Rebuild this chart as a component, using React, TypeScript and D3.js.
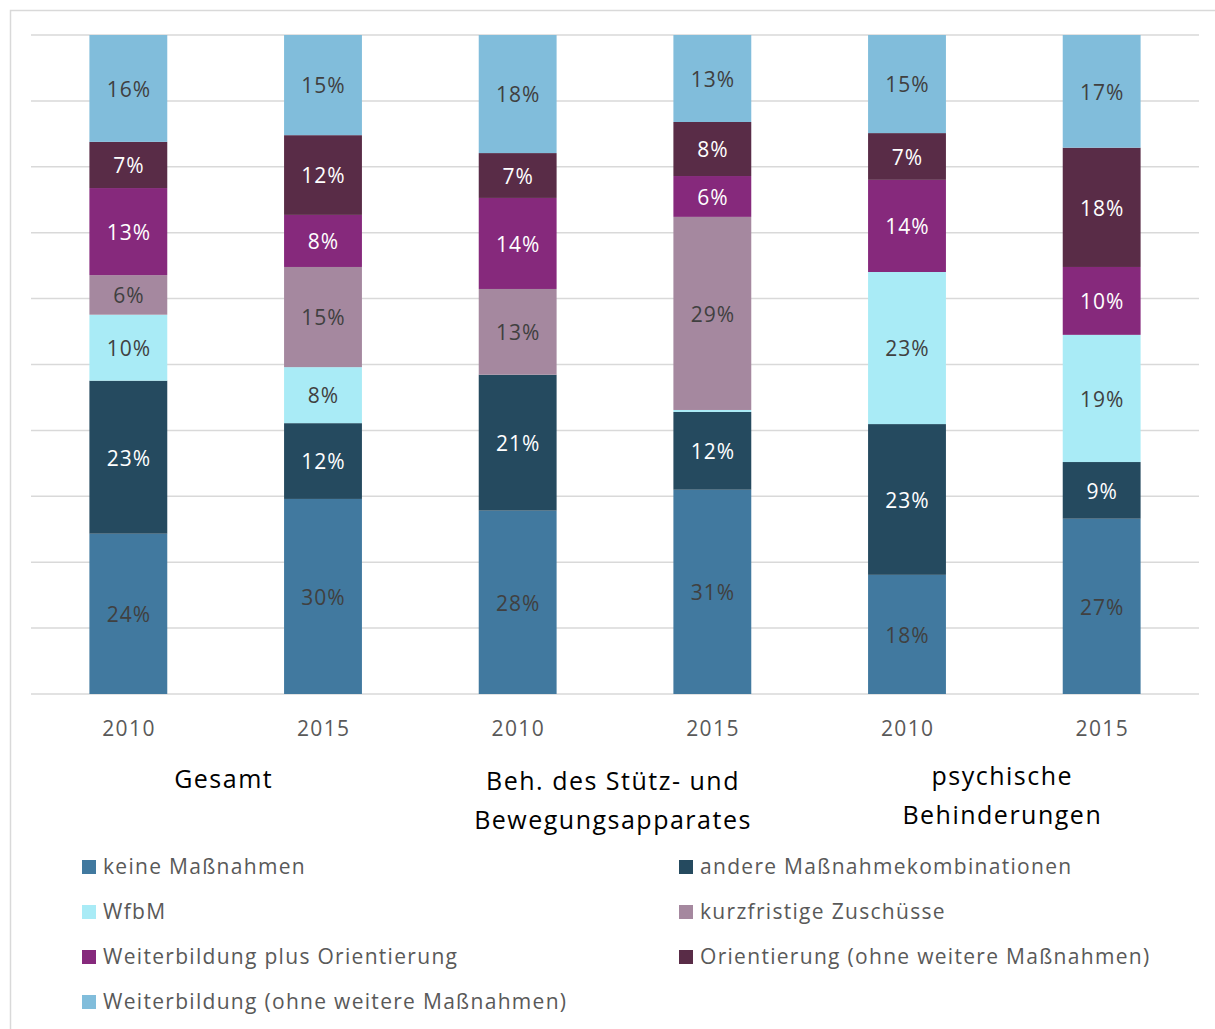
import React from 'react';
import * as d3 from 'd3';

// Balken: Gruppe x Jahr
const years = ['2010', '2015', '2010', '2015', '2010', '2015'];
const groups = [['Gesamt'], ['Beh. des Stütz- und', 'Bewegungsapparates'], ['psychische', 'Behinderungen']];

const seriesNames = [
  'keine Maßnahmen',
  'andere Maßnahmekombinationen',
  'WfbM',
  'kurzfristige Zuschüsse',
  'Weiterbildung plus Orientierung',
  'Orientierung (ohne weitere Maßnahmen)',
  'Weiterbildung (ohne weitere Maßnahmen)',
];

// Anteile in %, von unten nach oben gestapelt
const keine = [24.3, 29.6, 27.8, 31.0, 18.1, 26.6];
const andere = [23.2, 11.5, 20.6, 11.8, 22.9, 8.6];
const wfbm = [10.0, 8.5, 0, 0.3, 23.1, 19.3];
const kurz = [6.0, 15.2, 13.0, 29.3, 0, 0];
const weiterPlus = [13.2, 7.9, 13.8, 6.2, 14.0, 10.3];
const orient = [7.0, 12.1, 6.8, 8.2, 7.1, 18.1];
const weiter = [16.2, 15.2, 17.9, 13.2, 14.9, 17.1];

const labels = [
  ['24%', '30%', '28%', '31%', '18%', '27%'],
  ['23%', '12%', '21%', '12%', '23%', '9%'],
  ['10%', '8%', '', '', '23%', '19%'],
  ['6%', '15%', '13%', '29%', '', ''],
  ['13%', '8%', '14%', '6%', '14%', '10%'],
  ['7%', '12%', '7%', '8%', '7%', '18%'],
  ['16%', '15%', '18%', '13%', '15%', '17%'],
];

const colors = ['#41799F', '#254A5F', '#A9EBF6', '#A5889F', '#86297C', '#592C47', '#81BDDB'];
const labelColors = ['#404040', '#ffffff', '#404040', '#404040', '#ffffff', '#ffffff', '#404040'];

const W = 1215;
const H = 1029;
const font = '"Open Sans", Lato, sans-serif';

export default function App() {
  const margin = { left: 31, right: 16, top: 35, bottom: 335 };
  const plotH = H - margin.top - margin.bottom;

  const rows = years.map((y, i) => ({
    i,
    v: [keine[i], andere[i], wfbm[i], kurz[i], weiterPlus[i], orient[i], weiter[i]],
  }));
  const stack = d3.stack<any>()
    .keys(d3.range(7).map(String))
    .value((d, k) => d.v[+k])
    .offset(d3.stackOffsetExpand);
  const layers = stack(rows);

  const x = d3.scaleBand<number>()
    .domain(d3.range(years.length))
    .range([margin.left, W - margin.right])
    .paddingInner(0.6)
    .paddingOuter(0.3);
  const y = d3.scaleLinear().domain([0, 1]).range([margin.top + plotH, margin.top]);
  const ticks = d3.range(0, 1.0001, 0.1);

  const legendPos = seriesNames.map((_, k) => ({
    x: k % 2 === 0 ? 82 : 679,
    y: 867 + Math.floor(k / 2) * 45,
  }));

  return (
    <svg width={W} height={H} style={{ position: 'absolute', left: 0, top: 0 }} fontFamily={font}>
      <rect x={0} y={0} width={W} height={H} fill="#fff" />
      <rect x={10.5} y={10.5} width={W + 10} height={H + 10} fill="none" stroke="#d9d9d9" strokeWidth={1.5} />
      {ticks.map((t, i) => (
        <line key={i} x1={margin.left} x2={W - margin.right} y1={y(t)} y2={y(t)} stroke="#d9d9d9" strokeWidth={1.5} />
      ))}
      {layers.map((layer, k) => (
        <g key={k}>
          {layer.map((d, i) => (
            <rect key={i} x={x(i)} y={y(d[1])} width={x.bandwidth()} height={Math.max(0, y(d[0]) - y(d[1]))} fill={colors[k]} />
          ))}
        </g>
      ))}
      {layers.map((layer, k) => (
        <g key={'l' + k}>
          {layer.map((d, i) => labels[k][i] ? (
            <text key={i} x={(x(i) as number) + x.bandwidth() / 2 + 0.5} y={y((d[0] + d[1]) / 2) + 1} dy="0.35em"
              textAnchor="middle" fontSize={21} letterSpacing={1} fill={labelColors[k]}>{labels[k][i]}</text>
          ) : null)}
        </g>
      ))}
      {years.map((yr, i) => (
        <text key={i} x={(x(i) as number) + x.bandwidth() / 2 + 0.7} y={729} dy="0.35em" textAnchor="middle"
          fontSize={21} letterSpacing={1.4} fill="#595959">{yr}</text>
      ))}
      {groups.map((g, gi) => {
        const cx = ((x(gi * 2) as number) + (x(gi * 2 + 1) as number) + x.bandwidth()) / 2;
        const y0 = gi === 0 ? 779 : gi === 1 ? 781 : 776;
        return (
          <text key={gi} textAnchor="middle" fontSize={25} letterSpacing={1.5} fill="#000">
            {g.map((line, li) => (
              <tspan key={li} x={cx - 2} y={y0 + li * 39} dy="0.35em">{line}</tspan>
            ))}
          </text>
        );
      })}
      {seriesNames.map((name, k) => (
        <g key={k} transform={`translate(${legendPos[k].x},${legendPos[k].y})`}>
          <rect x={0} y={-7} width={14} height={14} fill={colors[k]} />
          <text x={21} y={0} dy="0.35em" fontSize={21} letterSpacing={1.3} fill="#595959">{name}</text>
        </g>
      ))}
    </svg>
  );
}
